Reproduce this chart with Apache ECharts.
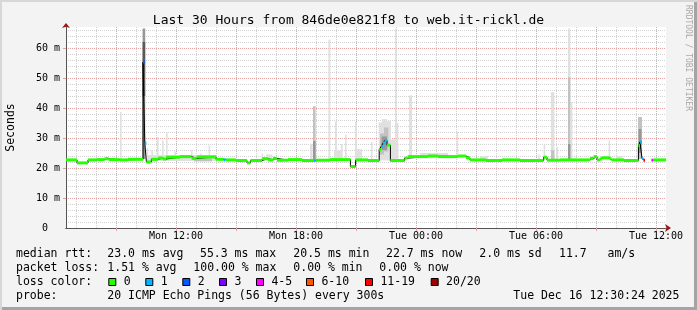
<!DOCTYPE html>
<html><head><meta charset="utf-8">
<script src="https://cdn.jsdelivr.net/npm/echarts@6/dist/echarts.min.js"></script>
<style>
html,body{margin:0;padding:0;background:#f3f3f3;}
#wrap{position:relative;width:697px;height:310px;overflow:hidden;}
#chart{width:697px;height:310px;}
#frame{position:absolute;left:0;top:0;width:697px;height:310px;box-sizing:border-box;pointer-events:none;
  box-shadow: inset 2px 2px 0 #d7d7d7, inset -3px -3px 0 #a4a4a4;}
</style></head><body>
<div id="wrap"><div id="chart"></div><div id="frame"></div></div>
<script>
const FONT = "'DejaVu Sans Mono', monospace";
const titleText = 'Last 30 Hours from 846de0e821f8 to web.it-rickl.de';
const watermark = 'RRDTOOL / TOBI OETIKER';
const yName = 'Seconds';

// x axis in hours since Mon 00:00
const xMin = 6.5, xMax = 36.5;
const xLabelHours = [12, 18, 24, 30, 36];
const xLabels = ['Mon 12:00', 'Mon 18:00', 'Tue 00:00', 'Tue 06:00', 'Tue 12:00'];
const xMajorHours = [9, 12, 15, 18, 21, 24, 27, 30, 33, 36];
const xMinorHours = [7, 8, 10, 11, 13, 14, 16, 17, 19, 20, 22, 23, 25, 26, 28, 29, 31, 32, 34, 35];
// y axis in ms
const yMin = 0, yMax = 67;
const yLabelValues = [0, 10, 20, 30, 40, 50, 60];
const yMajor = [10, 20, 30, 40, 50, 60];
const yMinor = [2, 4, 6, 8, 12, 14, 16, 18, 22, 24, 26, 28, 32, 34, 36, 38, 42, 44, 46, 48, 52, 54, 56, 58, 62, 64, 66];

// median rtt: [hour, ms, lossClass]
const median = [
  [6.50, 22.7, 0], [7.05, 21.7, 0], [7.60, 22.7, 0], [8.03, 22.8, 0], [8.43, 23.1, 0],
  [8.63, 22.8, 0], [9.18, 22.7, 0], [9.60, 22.9, 0], [10.35, 55.3, 2], [10.44, 28.3, 1],
  [10.52, 22.0, 0], [10.77, 22.9, 0], [11.10, 23.3, 0], [11.35, 23.0, 0], [11.50, 23.6, 0],
  [12.20, 23.8, 0], [12.78, 23.2, 0], [13.03, 23.7, 0], [14.00, 22.9, 0], [14.38, 22.7, 1],
  [14.47, 22.7, 0], [15.00, 22.5, 0], [15.55, 21.7, 0], [15.72, 22.5, 0], [16.30, 23.1, 0],
  [16.60, 22.7, 0], [16.85, 23.2, 0], [17.05, 22.6, 0], [17.60, 22.8, 0], [18.30, 22.5, 0],
  [18.90, 22.5, 1], [18.98, 22.6, 0], [19.70, 22.8, 0], [20.72, 20.5, 0], [20.98, 22.7, 0],
  [21.60, 22.5, 0], [22.16, 26.1, 0], [22.26, 27.2, 1], [22.35, 28.3, 1], [22.44, 29.2, 1],
  [22.55, 27.6, 0], [22.72, 22.5, 0], [23.43, 23.3, 0], [23.58, 23.8, 0], [24.60, 24.0, 0],
  [25.10, 23.8, 0], [26.10, 24.0, 0], [26.50, 23.4, 0], [26.70, 22.7, 0], [27.50, 22.5, 0],
  [28.30, 22.7, 0], [29.20, 22.5, 0], [30.38, 23.6, 0], [30.55, 22.6, 0], [31.20, 22.7, 0],
  [32.70, 23.2, 0], [32.88, 23.8, 0], [33.05, 22.7, 0], [33.20, 23.0, 0], [33.28, 23.4, 0],
  [33.68, 23.1, 0], [33.78, 22.7, 0], [34.40, 22.5, 0], [35.12, 27.4, 0], [35.20, 28.7, 1],
  [35.30, 23.2, 1], [35.37, 22.6, 6], [35.45, null, 0], [35.78, 22.6, 4], [35.86, 22.7, 0],
  [36.50, 22.7, 0]
];

// smoke: [hourStart, hourEnd, lowMs, highMs, shade]
const smoke = [
  [10.6, 14.0, 22.3, 24.3, 0], [12.9, 13.8, 22.2, 23.4, 1],
  [9.20, 9.28, 23.2, 38.7, 0],
  [10.33, 10.46, 23.0, 66.5, 2], [10.33, 10.46, 44.0, 62.0, 3],
  [10.52, 10.60, 22.0, 26.5, 0], [10.77, 10.85, 22.5, 26.0, 0], [11.05, 11.13, 23.0, 30.3, 0],
  [11.30, 11.38, 23.0, 29.2, 0], [11.50, 11.58, 23.5, 32.0, 0], [11.92, 12.00, 23.5, 25.5, 0],
  [12.75, 12.83, 23.3, 25.9, 0], [13.20, 13.28, 23.5, 24.8, 0], [13.63, 13.71, 23.5, 27.6, 0],
  [16.28, 16.36, 23.0, 24.8, 0], [16.50, 16.80, 22.8, 24.5, 0],
  [18.70, 18.83, 22.8, 28.1, 0], [18.85, 18.98, 22.5, 40.6, 1], [18.85, 18.98, 22.5, 29.0, 2],
  [19.62, 19.72, 23.0, 62.8, 0],
  [19.90, 20.25, 22.8, 25.9, 0], [19.95, 20.05, 23.0, 35.6, 0], [20.25, 20.33, 23.0, 28.0, 0],
  [20.45, 20.53, 23.0, 31.2, 0], [20.95, 21.05, 23.0, 35.3, 0], [21.05, 21.30, 22.8, 26.3, 0],
  [21.75, 21.83, 22.8, 28.7, 0],
  [22.14, 22.30, 22.5, 35.2, 0], [22.30, 22.55, 22.5, 36.3, 0], [22.55, 22.75, 22.5, 35.6, 0],
  [22.75, 22.95, 22.5, 29.5, 0], [22.95, 23.03, 22.5, 66.5, 0], [23.03, 23.12, 22.5, 35.0, 0],
  [22.20, 22.40, 24.5, 31.5, 1], [22.40, 22.62, 25.5, 33.5, 1], [22.28, 22.55, 26.0, 30.5, 2],
  [23.65, 23.80, 23.5, 44.2, 0], [24.20, 25.60, 23.8, 25.0, 0], [26.03, 26.11, 23.8, 32.0, 0],
  [27.20, 27.60, 22.5, 24.0, 0],
  [30.10, 30.18, 22.7, 24.5, 0], [30.38, 30.46, 22.7, 27.6, 0],
  [30.75, 30.92, 22.6, 45.3, 0], [30.75, 30.92, 22.6, 25.9, 1], [31.00, 31.10, 22.7, 27.0, 0],
  [31.60, 31.72, 22.7, 66.5, 0], [31.60, 31.72, 22.7, 50.3, 1], [31.72, 31.82, 22.7, 42.0, 0],
  [31.60, 31.72, 22.7, 28.0, 2],
  [33.63, 33.71, 23.0, 29.2, 0], [34.00, 34.30, 22.7, 24.0, 0],
  [35.10, 35.30, 23.0, 37.0, 1], [35.13, 35.27, 25.0, 33.0, 2]
];

const lossColors = ['#26ff00', '#00b8ff', '#0059ff', '#7e00ff', '#ff00ff', '#ff5500', '#ff0000', '#a10000'];
const lossLabels = ['0', '1', '2', '3', '4-5', '6-10', '11-19', '20/20'];
const shadeColors = ['#e0e0e0', '#c2c2c2', '#979797', '#5a5a5a'];

const rttHead = 'median rtt:';
const rttStats = ['23.0 ms avg', '55.3 ms max', '20.5 ms min', '22.7 ms now', '2.0 ms sd', '11.7   am/s'];
const lossHead = 'packet loss:';
const lossStats = ['1.51 % avg', '100.00 % max', '0.00 % min', '0.00 % now'];
const colorHead = 'loss color:';
const probeHead = 'probe:';
const probeText = '20 ICMP Echo Pings (56 Bytes) every 300s';
const dateText = 'Tue Dec 16 12:30:24 2025';

// layout (pixels)
const rttX = [107.3, 200, 293.3, 386, 479.3, 559];
const lossX = [107.3, 193.3, 293.3, 379.3];
const boxX = [108.3, 145.3, 182.3, 219, 256, 306, 365, 430.7];
const lineY = [254, 268, 282, 296];
const LF = '11.5px ' + FONT;

const segs = [];
for (let i = 0; i + 1 < median.length; i++) {
  if (median[i][1] == null) continue;
  segs.push([median[i][0], median[i + 1][0], median[i][1], median[i][2]]);
}

const graphics = [];
function txt(x, y, s, extra) {
  graphics.push(Object.assign({type: 'text', x: x, y: y, silent: true,
    style: {text: s, fill: '#000', font: LF, verticalAlign: 'middle', align: 'left'}}, extra || {}));
}
txt(16, lineY[0], rttHead);
rttStats.forEach((s, i) => txt(rttX[i], lineY[0], s));
txt(16, lineY[1], lossHead);
lossStats.forEach((s, i) => txt(lossX[i], lineY[1], s));
txt(16, lineY[2], colorHead);
lossLabels.forEach((s, i) => {
  graphics.push({type: 'rect', silent: true, shape: {x: boxX[i] + 0.5, y: lineY[2] - 3.5, width: 7, height: 7},
    style: {fill: lossColors[i], stroke: '#000', lineWidth: 1}});
  txt(boxX[i] + 15.4, lineY[2], s);
});
txt(16, lineY[3], probeHead);
txt(107.3, lineY[3], probeText);
txt(513.3, lineY[3], dateText);
graphics.push({type: 'text', x: 688.5, y: 5, rotation: -Math.PI / 2, silent: true,
  style: {text: watermark, fill: '#a8a8a8', font: '8px ' + FONT, align: 'left', verticalAlign: 'middle'}});

const AXC = '#555555', ARROW = '#a01010', MAJ = '#e6a3a3', MIN = '#d2d2d2';

const chart = echarts.init(document.getElementById('chart'), null, {renderer: 'canvas'});
chart.setOption({
  animation: false,
  backgroundColor: '#f3f3f3',
  title: {text: titleText, left: 'center', top: 9,
    textStyle: {fontFamily: FONT, fontSize: 13, fontWeight: 'normal', color: '#000'}},
  grid: {left: 66, top: 27, width: 600, height: 201, show: true, backgroundColor: '#ffffff', borderWidth: 0,
    containLabel: false, outerBoundsMode: 'none'},
  xAxis: [
    {type: 'value', min: xMin, max: xMax, position: 'bottom', z: 1,
      axisLine: {show: false}, axisTick: {show: false, customValues: xMinorHours}, axisLabel: {show: false},
      splitLine: {show: true, lineStyle: {color: MIN, type: [1, 1], width: 1}}},
    {type: 'value', min: xMin, max: xMax, position: 'bottom', z: 1.5,
      axisLine: {show: true, onZero: false, lineStyle: {color: ARROW}, symbol: ['none', 'arrow'], symbolSize: [6, 6], symbolOffset: [0, 5]},
      axisTick: {show: false}, axisLabel: {show: false}, splitLine: {show: false}},
    {type: 'value', min: xMin, max: xMax, position: 'bottom', z: 2,
      axisLine: {show: true, onZero: false, lineStyle: {color: AXC}},
      axisTick: {show: true, customValues: xMajorHours, length: 3, lineStyle: {color: MAJ}},
      axisLabel: {show: true, customValues: xLabelHours, margin: 3, fontFamily: FONT, fontSize: 10, color: '#000',
        formatter: v => xLabels[xLabelHours.indexOf(v)]},
      splitLine: {show: true, lineStyle: {color: MAJ, type: [1, 1], width: 1}}}
  ],
  yAxis: [
    {type: 'value', min: yMin, max: yMax, position: 'left', z: 1,
      axisLine: {show: false}, axisTick: {show: false, customValues: yMinor}, axisLabel: {show: false},
      splitLine: {show: true, lineStyle: {color: MIN, type: [1, 1], width: 1}}},
    {type: 'value', min: yMin, max: yMax, position: 'left', z: 1.5,
      axisLine: {show: true, onZero: false, lineStyle: {color: ARROW}, symbol: ['none', 'arrow'], symbolSize: [6, 5], symbolOffset: [0, 4]},
      axisTick: {show: false}, axisLabel: {show: false}, splitLine: {show: false}},
    {type: 'value', min: yMin, max: yMax, position: 'left', z: 2,
      name: yName, nameLocation: 'middle', nameGap: 49, nameRotate: 90,
      nameTextStyle: {fontFamily: FONT, fontSize: 11.5, color: '#000'},
      axisLine: {show: true, onZero: false, lineStyle: {color: AXC}},
      axisTick: {show: true, customValues: yMajor, length: 3, lineStyle: {color: MAJ}},
      axisLabel: {show: true, customValues: yLabelValues, margin: 6, fontFamily: FONT, fontSize: 10, color: '#000',
        formatter: v => v === 0 ? '0  ' : v + ' m'},
      splitLine: {show: true, lineStyle: {color: MAJ, type: [1, 1], width: 1}}}
  ],
  series: [
    {type: 'custom', name: 'smoke', xAxisIndex: 2, yAxisIndex: 2, z: 3, silent: true,
      data: smoke,
      renderItem: function (params, api) {
        const p0 = api.coord([api.value(0), api.value(3)]);
        const p1 = api.coord([api.value(1), api.value(2)]);
        return {type: 'rect', shape: {x: p0[0], y: p0[1], width: Math.max(1, p1[0] - p0[0]), height: p1[1] - p0[1]},
          style: {fill: shadeColors[api.value(4)]}};
      }},
    {type: 'line', name: 'median', xAxisIndex: 2, yAxisIndex: 2, z: 4, step: 'end', symbol: 'none', silent: true,
      connectNulls: false, data: median.map(p => [p[0], p[1]]),
      lineStyle: {color: '#000', width: 1}},
    {type: 'custom', name: 'loss', xAxisIndex: 2, yAxisIndex: 2, z: 5, silent: true,
      data: segs,
      renderItem: function (params, api) {
        const p0 = api.coord([api.value(0), api.value(2)]);
        const p1 = api.coord([api.value(1), api.value(2)]);
        return {type: 'rect', shape: {x: p0[0], y: p0[1] - 1.5, width: p1[0] - p0[0], height: 3},
          style: {fill: lossColors[api.value(3)]}};
      }}
  ],
  graphic: graphics
});
</script>
</body></html>
